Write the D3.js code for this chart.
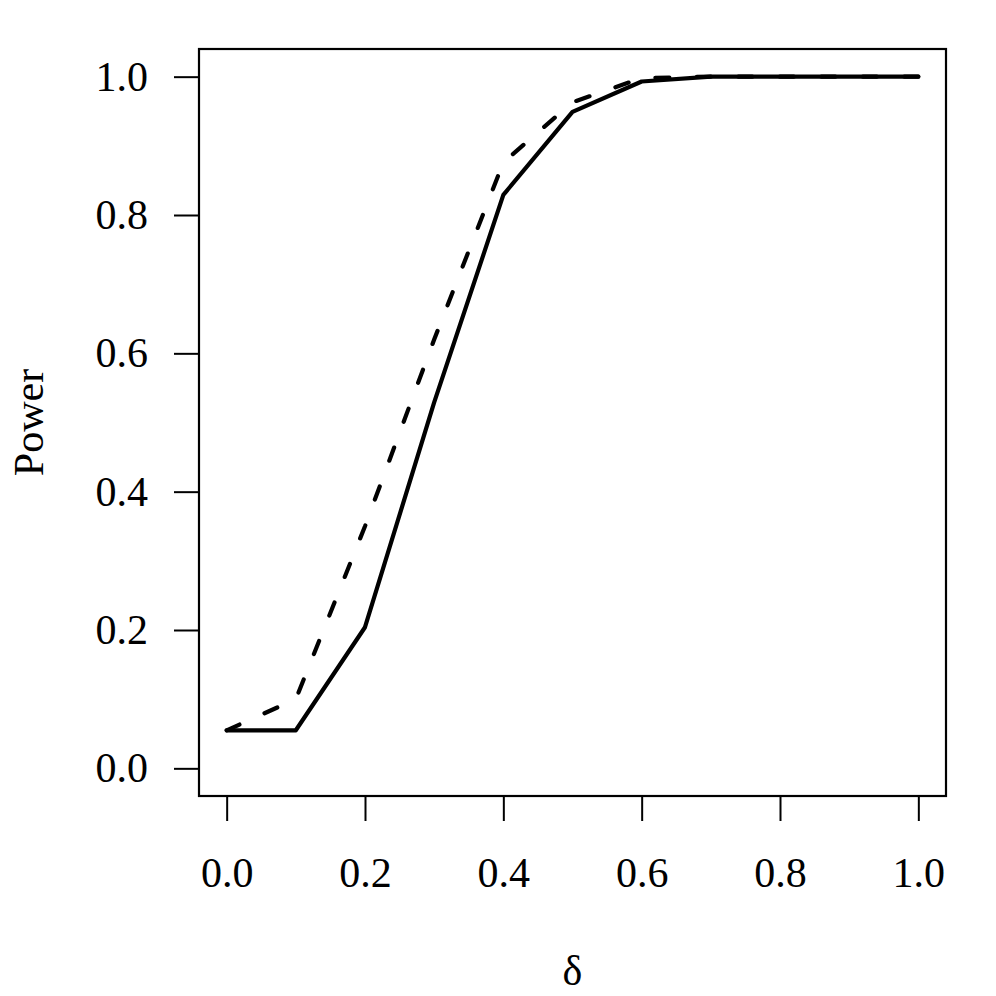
<!DOCTYPE html>
<html lang="en">
<head>
    <meta charset="UTF-8">
    <script src="https://cdn.jsdelivr.net/npm/d3@7"></script>
    <title>Power curves</title>
    <style>
        body { margin: 0; background: white; }
        svg { display: block; }
        text { font-family: "Liberation Serif", "Times New Roman", serif; fill: black; }
    </style>
</head>
<body>
<script>
    // effect sizes (delta) on the x axis
    const delta = [0, 0.1, 0.2, 0.3, 0.4, 0.5, 0.6, 0.7, 0.8, 0.9, 1.0];
    // power
    const powerSolid = [0.055, 0.055, 0.204, 0.529, 0.829, 0.949, 0.993, 1.0, 1.0, 1.0, 1.0];
    const powerDashed = [0.055, 0.10, 0.35, 0.62, 0.876, 0.963, 0.998, 1.0, 1.0, 1.0, 1.0];
    const xTicks = [0, 0.2, 0.4, 0.6, 0.8, 1.0];
    const yTicks = [0, 0.2, 0.4, 0.6, 0.8, 1.0];

    const W = 996, H = 996;
    // plot box (R style, 4% padding around data range)
    const box = { left: 199, right: 946, top: 49, bottom: 796 };
    const fontSize = 42;

    const svg = d3.select("body").append("svg")
        .attr("width", W)
        .attr("height", H);

    const x = d3.scaleLinear()
        .domain([-0.04, 1.04])
        .range([box.left, box.right]);
    const y = d3.scaleLinear()
        .domain([-0.04, 1.04])
        .range([box.bottom, box.top]);

    // x axis
    const xAxis = svg.append("g")
        .attr("transform", `translate(0,${box.bottom})`)
        .call(d3.axisBottom(x).tickValues(xTicks).tickFormat(d3.format(".1f"))
            .tickSize(25).tickPadding(36));
    xAxis.select(".domain").remove();

    // y axis
    const yAxis = svg.append("g")
        .attr("transform", `translate(${box.left},0)`)
        .call(d3.axisLeft(y).tickValues(yTicks).tickFormat(d3.format(".1f"))
            .tickSize(25).tickPadding(26));
    yAxis.select(".domain").remove();

    svg.selectAll(".tick line").attr("stroke", "black").attr("stroke-width", 2);
    svg.selectAll(".tick text")
        .style("font-family", '"Liberation Serif", "Times New Roman", serif')
        .style("font-size", fontSize + "px");

    // axis lines across the tick span
    svg.append("line")
        .attr("x1", x(0)).attr("x2", x(1))
        .attr("y1", box.bottom).attr("y2", box.bottom)
        .attr("stroke", "black").attr("stroke-width", 2);
    svg.append("line")
        .attr("x1", box.left).attr("x2", box.left)
        .attr("y1", y(0)).attr("y2", y(1))
        .attr("stroke", "black").attr("stroke-width", 2);

    // box
    svg.append("rect")
        .attr("x", box.left).attr("y", box.top)
        .attr("width", box.right - box.left)
        .attr("height", box.bottom - box.top)
        .attr("fill", "none")
        .attr("stroke", "black")
        .attr("stroke-width", 2.2);

    // lines
    const line = d3.line()
        .x(d => x(d[0]))
        .y(d => y(d[1]));

    svg.append("path")
        .datum(delta.map((d, i) => [d, powerSolid[i]]))
        .attr("d", line)
        .attr("fill", "none")
        .attr("stroke", "black")
        .attr("stroke-width", 4.2)
        .attr("stroke-linejoin", "round")
        .attr("stroke-linecap", "round");

    svg.append("path")
        .datum(delta.map((d, i) => [d, powerDashed[i]]))
        .attr("d", line)
        .attr("fill", "none")
        .attr("stroke", "black")
        .attr("stroke-width", 4.2)
        .attr("stroke-dasharray", "14,27.5")
        .attr("stroke-linejoin", "round")
        .attr("stroke-linecap", "round");

    // axis titles
    svg.append("text")
        .attr("x", (box.left + box.right) / 2)
        .attr("y", 985)
        .attr("text-anchor", "middle")
        .style("font-size", fontSize + "px")
        .text("δ");

    svg.append("text")
        .attr("transform", `translate(43,${(box.top + box.bottom) / 2}) rotate(-90)`)
        .attr("text-anchor", "middle")
        .style("font-size", fontSize + "px")
        .text("Power");
</script>
</body>
</html>
